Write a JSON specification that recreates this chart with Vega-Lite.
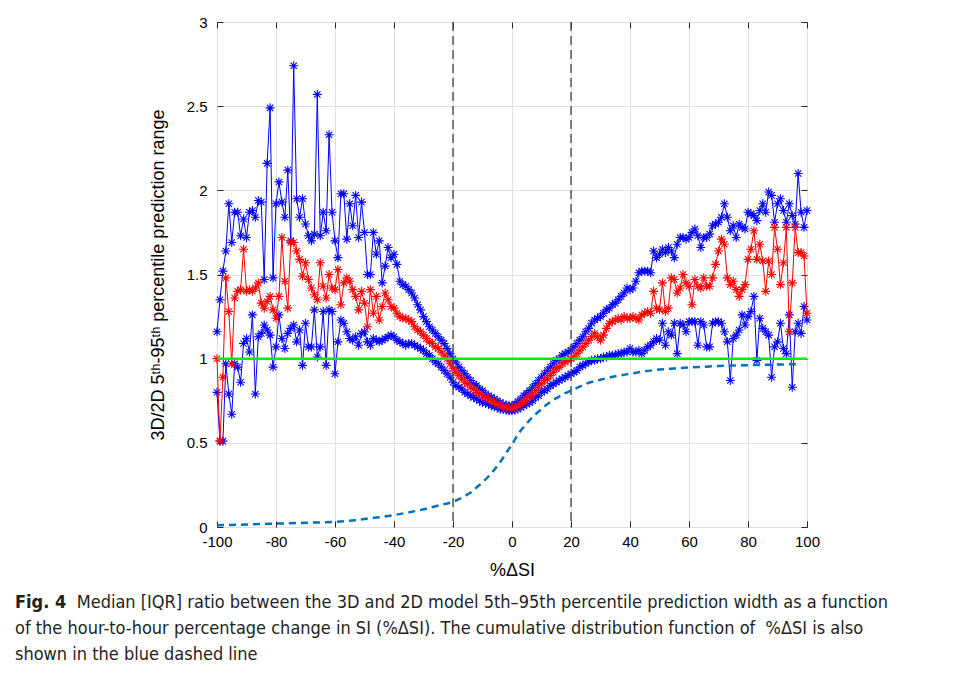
{
  "$schema": "https://vega.github.io/schema/vega-lite/v6.json",
  "autosize": {"type": "none"},
  "width": 590,
  "height": 505,
  "padding": {"left": 217, "top": 22, "right": 151, "bottom": 149},
  "background": "white",
  "config": {
    "view": {"stroke": "#262626", "strokeWidth": 1},
    "axis": {"labelFont": "Liberation Sans", "titleFont": "Liberation Sans", "labelColor": "#000", "titleColor": "#000", "labelFontSize": 15, "titleFontSize": 18, "titleFontWeight": "normal", "domain": false, "tickColor": "#262626", "tickSize": -6, "gridColor": "#e0e0e0", "gridWidth": 1, "labelFlush": false, "labelExpr": "datum.value + ''"}
  },
  "title": {
    "text": "Fig. 4",
    "subtitle": [
      "\u200b\u00a0\u00a0\u00a0\u00a0\u00a0\u00a0\u00a0\u00a0\u00a0\u00a0\u00a0\u00a0Median [IQR] ratio between the 3D and 2D model 5th\u201395th percentile prediction width as a function",
      "of the hour-to-hour percentage change in SI (%\u0394SI). The cumulative distribution function of \u00a0%\u0394SI is also",
      "shown in the blue dashed line"
    ],
    "orient": "bottom",
    "anchor": "start",
    "frame": "group",
    "dx": -202,
    "offset": 15,
    "font": "DejaVu Sans Condensed, sans-serif",
    "fontSize": 18,
    "fontWeight": "bold",
    "color": "#231f20",
    "subtitleFont": "DejaVu Sans Condensed, sans-serif",
    "subtitleFontSize": 18,
    "subtitleColor": "#231f20",
    "subtitleLineHeight": 26,
    "subtitlePadding": -18
  },
  "datasets": {
    "d": [
      {"x":-100,"u":1.16,"m":1.00,"l":0.80},{"x":-99,"u":1.35,"m":0.51,"l":0.51},{"x":-98,"u":1.52,"m":0.89,"l":0.51},{"x":-97,"u":1.64,"m":1.48,"l":0.97},{"x":-96,"u":1.92,"m":1.28,"l":0.79},
      {"x":-95,"u":1.69,"m":0.97,"l":0.67},{"x":-94,"u":1.87,"m":1.36,"l":0.97},{"x":-93,"u":1.87,"m":1.40,"l":0.95},{"x":-92,"u":1.73,"m":1.41,"l":0.86},{"x":-91,"u":1.83,"m":1.65,"l":1.09},
      {"x":-90,"u":1.72,"m":1.40,"l":1.12},{"x":-89,"u":1.87,"m":1.41,"l":1.04},{"x":-88,"u":1.88,"m":1.40,"l":1.26},{"x":-87,"u":1.84,"m":1.42,"l":0.79},{"x":-86,"u":1.94,"m":1.45,"l":1.13},
      {"x":-85,"u":1.93,"m":1.33,"l":1.15},{"x":-84,"u":1.47,"m":1.30,"l":1.20},{"x":-83,"u":2.16,"m":1.34,"l":1.17},{"x":-82,"u":2.49,"m":1.37,"l":1.14},{"x":-81,"u":1.48,"m":1.29,"l":0.95},
      {"x":-80,"u":1.92,"m":1.24,"l":1.07},{"x":-79,"u":2.05,"m":1.37,"l":1.26},{"x":-78,"u":1.93,"m":1.72,"l":1.12},{"x":-77,"u":1.84,"m":1.46,"l":1.06},{"x":-76,"u":2.12,"m":1.30,"l":1.15},
      {"x":-75,"u":1.70,"m":1.69,"l":1.18},{"x":-74,"u":2.74,"m":1.69,"l":1.20},{"x":-73,"u":1.95,"m":1.64,"l":1.10},{"x":-72,"u":1.84,"m":1.59,"l":1.17},{"x":-71,"u":1.95,"m":1.49,"l":0.96},
      {"x":-70,"u":1.80,"m":1.57,"l":1.21},{"x":-69,"u":1.73,"m":1.47,"l":1.07},{"x":-68,"u":1.70,"m":1.42,"l":1.07},{"x":-67,"u":1.74,"m":1.38,"l":1.29},{"x":-66,"u":2.57,"m":1.35,"l":1.01},
      {"x":-65,"u":1.73,"m":1.57,"l":1.07},{"x":-64,"u":1.87,"m":1.43,"l":1.28},{"x":-63,"u":1.76,"m":1.36,"l":0.96},{"x":-62,"u":2.33,"m":1.50,"l":1.29},{"x":-61,"u":1.87,"m":1.42,"l":1.28},
      {"x":-60,"u":1.70,"m":1.41,"l":0.91},{"x":-59,"u":1.60,"m":1.53,"l":1.10},{"x":-58,"u":1.98,"m":1.32,"l":1.23},{"x":-57,"u":1.98,"m":1.45,"l":1.21},{"x":-56,"u":1.71,"m":1.48,"l":1.16},
      {"x":-55,"u":1.92,"m":1.46,"l":1.12},{"x":-54,"u":1.79,"m":1.41,"l":1.11},{"x":-53,"u":1.97,"m":1.37,"l":1.13},{"x":-52,"u":1.72,"m":1.29,"l":1.08},{"x":-51,"u":1.93,"m":1.40,"l":1.15},
      {"x":-50,"u":1.75,"m":1.33,"l":1.16},{"x":-49,"u":1.50,"m":1.19,"l":1.10},{"x":-48,"u":1.50,"m":1.41,"l":1.08},{"x":-47,"u":1.75,"m":1.27,"l":1.12},{"x":-46,"u":1.62,"m":1.37,"l":1.11},
      {"x":-45,"u":1.70,"m":1.23,"l":1.10},{"x":-44,"u":1.45,"m":1.31,"l":1.11},{"x":-43,"u":1.55,"m":1.39,"l":1.12},{"x":-42,"u":1.66,"m":1.35,"l":1.13},{"x":-41,"u":1.60,"m":1.31,"l":1.14},
      {"x":-40,"u":1.62,"m":1.30,"l":1.13},{"x":-39,"u":1.56,"m":1.27,"l":1.11},{"x":-38,"u":1.46,"m":1.25,"l":1.10},{"x":-37,"u":1.44,"m":1.24,"l":1.09},{"x":-36,"u":1.43,"m":1.24,"l":1.08},
      {"x":-35,"u":1.41,"m":1.23,"l":1.09},{"x":-34,"u":1.39,"m":1.22,"l":1.09},{"x":-33,"u":1.36,"m":1.19,"l":1.08},{"x":-32,"u":1.32,"m":1.17,"l":1.07},{"x":-31,"u":1.29,"m":1.16,"l":1.06},
      {"x":-30,"u":1.25,"m":1.14,"l":1.05},{"x":-29,"u":1.22,"m":1.12,"l":1.03},{"x":-28,"u":1.19,"m":1.10,"l":1.02},{"x":-27,"u":1.17,"m":1.09,"l":1.00},{"x":-26,"u":1.15,"m":1.07,"l":0.98},
      {"x":-25,"u":1.13,"m":1.06,"l":0.97},{"x":-24,"u":1.11,"m":1.04,"l":0.95},{"x":-23,"u":1.09,"m":1.02,"l":0.93},{"x":-22,"u":1.06,"m":1.00,"l":0.91},{"x":-21,"u":1.03,"m":0.97,"l":0.89},
      {"x":-20,"u":1.00,"m":0.94,"l":0.86},{"x":-19,"u":0.98,"m":0.92,"l":0.84},{"x":-18,"u":0.95,"m":0.90,"l":0.83},{"x":-17,"u":0.93,"m":0.88,"l":0.82},{"x":-16,"u":0.91,"m":0.86,"l":0.80},
      {"x":-15,"u":0.89,"m":0.85,"l":0.79},{"x":-14,"u":0.87,"m":0.83,"l":0.78},{"x":-13,"u":0.85,"m":0.82,"l":0.77},{"x":-12,"u":0.84,"m":0.80,"l":0.76},{"x":-11,"u":0.82,"m":0.79,"l":0.75},
      {"x":-10,"u":0.81,"m":0.78,"l":0.74},{"x":-9,"u":0.79,"m":0.77,"l":0.735},{"x":-8,"u":0.78,"m":0.76,"l":0.73},{"x":-7,"u":0.77,"m":0.75,"l":0.72},{"x":-6,"u":0.76,"m":0.74,"l":0.715},
      {"x":-5,"u":0.75,"m":0.73,"l":0.71},{"x":-4,"u":0.74,"m":0.72,"l":0.70},{"x":-3,"u":0.73,"m":0.715,"l":0.70},{"x":-2,"u":0.725,"m":0.71,"l":0.695},{"x":-1,"u":0.72,"m":0.705,"l":0.69},
      {"x":0,"u":0.72,"m":0.705,"l":0.69},{"x":1,"u":0.73,"m":0.71,"l":0.695},{"x":2,"u":0.745,"m":0.72,"l":0.70},{"x":3,"u":0.76,"m":0.73,"l":0.71},{"x":4,"u":0.78,"m":0.745,"l":0.72},
      {"x":5,"u":0.795,"m":0.76,"l":0.73},{"x":6,"u":0.81,"m":0.775,"l":0.74},{"x":7,"u":0.83,"m":0.79,"l":0.75},{"x":8,"u":0.85,"m":0.81,"l":0.77},{"x":9,"u":0.87,"m":0.83,"l":0.78},
      {"x":10,"u":0.89,"m":0.85,"l":0.80},{"x":11,"u":0.91,"m":0.87,"l":0.81},{"x":12,"u":0.93,"m":0.88,"l":0.82},{"x":13,"u":0.95,"m":0.90,"l":0.84},{"x":14,"u":0.97,"m":0.92,"l":0.85},
      {"x":15,"u":0.99,"m":0.94,"l":0.86},{"x":16,"u":1.00,"m":0.95,"l":0.87},{"x":17,"u":1.02,"m":0.97,"l":0.88},{"x":18,"u":1.03,"m":0.98,"l":0.89},{"x":19,"u":1.04,"m":0.99,"l":0.90},
      {"x":20,"u":1.05,"m":1.00,"l":0.91},{"x":21,"u":1.07,"m":1.01,"l":0.92},{"x":22,"u":1.09,"m":1.03,"l":0.93},{"x":23,"u":1.11,"m":1.05,"l":0.95},{"x":24,"u":1.13,"m":1.07,"l":0.96},
      {"x":25,"u":1.16,"m":1.09,"l":0.97},{"x":26,"u":1.18,"m":1.11,"l":0.98},{"x":27,"u":1.21,"m":1.13,"l":0.99},{"x":28,"u":1.23,"m":1.15,"l":0.99},{"x":29,"u":1.24,"m":1.13,"l":1.00},
      {"x":30,"u":1.25,"m":1.11,"l":1.00},{"x":31,"u":1.27,"m":1.14,"l":1.01},{"x":32,"u":1.29,"m":1.18,"l":1.01},{"x":33,"u":1.30,"m":1.21,"l":1.02},{"x":34,"u":1.32,"m":1.22,"l":1.02},
      {"x":35,"u":1.33,"m":1.23,"l":1.02},{"x":36,"u":1.35,"m":1.24,"l":1.03},{"x":37,"u":1.37,"m":1.23,"l":1.03},{"x":38,"u":1.39,"m":1.25,"l":1.04},{"x":39,"u":1.42,"m":1.24,"l":1.04},
      {"x":40,"u":1.41,"m":1.24,"l":1.06},{"x":41,"u":1.42,"m":1.25,"l":1.04},{"x":42,"u":1.46,"m":1.24,"l":1.04},{"x":43,"u":1.51,"m":1.23,"l":1.05},{"x":44,"u":1.52,"m":1.26,"l":1.03},
      {"x":45,"u":1.52,"m":1.27,"l":1.05},{"x":46,"u":1.52,"m":1.28,"l":1.07},{"x":47,"u":1.51,"m":1.27,"l":1.08},{"x":48,"u":1.64,"m":1.40,"l":1.10},{"x":49,"u":1.60,"m":1.30,"l":1.12},
      {"x":50,"u":1.62,"m":1.29,"l":1.11},{"x":51,"u":1.65,"m":1.45,"l":1.21},{"x":52,"u":1.63,"m":1.28,"l":1.08},{"x":53,"u":1.66,"m":1.30,"l":1.16},{"x":54,"u":1.64,"m":1.48,"l":1.14},
      {"x":55,"u":1.60,"m":1.47,"l":1.21},{"x":56,"u":1.68,"m":1.39,"l":1.03},{"x":57,"u":1.72,"m":1.42,"l":1.21},{"x":58,"u":1.72,"m":1.50,"l":1.20},{"x":59,"u":1.71,"m":1.45,"l":1.16},
      {"x":60,"u":1.72,"m":1.43,"l":1.22},{"x":61,"u":1.75,"m":1.32,"l":1.22},{"x":62,"u":1.77,"m":1.47,"l":1.22},{"x":63,"u":1.73,"m":1.43,"l":1.08},{"x":64,"u":1.66,"m":1.42,"l":1.22},
      {"x":65,"u":1.72,"m":1.48,"l":1.20},{"x":66,"u":1.72,"m":1.43,"l":1.07},{"x":67,"u":1.74,"m":1.43,"l":1.07},{"x":68,"u":1.79,"m":1.48,"l":1.21},{"x":69,"u":1.80,"m":1.56,"l":1.22},
      {"x":70,"u":1.81,"m":1.64,"l":1.22},{"x":71,"u":1.84,"m":1.71,"l":1.21},{"x":72,"u":1.92,"m":1.68,"l":1.16},{"x":73,"u":1.84,"m":1.48,"l":1.10},{"x":74,"u":1.76,"m":1.44,"l":0.87},
      {"x":75,"u":1.79,"m":1.46,"l":1.12},{"x":76,"u":1.72,"m":1.41,"l":1.14},{"x":77,"u":1.80,"m":1.37,"l":1.17},{"x":78,"u":1.78,"m":1.41,"l":1.26},{"x":79,"u":1.77,"m":1.44,"l":1.20},
      {"x":80,"u":1.87,"m":1.59,"l":1.25},{"x":81,"u":1.86,"m":1.65,"l":1.28},{"x":82,"u":1.85,"m":1.76,"l":1.37},{"x":83,"u":1.82,"m":1.59,"l":0.99},{"x":84,"u":1.88,"m":1.68,"l":1.24},
      {"x":85,"u":1.92,"m":1.58,"l":1.18},{"x":86,"u":1.87,"m":1.40,"l":1.16},{"x":87,"u":1.99,"m":1.58,"l":1.14},{"x":88,"u":1.97,"m":1.50,"l":0.89},{"x":89,"u":1.81,"m":1.78,"l":1.07},
      {"x":90,"u":1.92,"m":1.65,"l":1.10},{"x":91,"u":1.95,"m":1.44,"l":1.21},{"x":92,"u":1.88,"m":1.57,"l":1.06},{"x":93,"u":1.81,"m":1.78,"l":1.03},{"x":94,"u":1.92,"m":1.16,"l":1.26},
      {"x":95,"u":1.85,"m":1.45,"l":0.83},{"x":96,"u":1.80,"m":1.78,"l":1.16},{"x":97,"u":2.10,"m":1.63,"l":1.21},{"x":98,"u":1.87,"m":1.63,"l":1.15},{"x":99,"u":1.78,"m":1.61,"l":1.31},
      {"x":100,"u":1.88,"m":1.27,"l":1.23}
    ],
    "cdf": [
      {"x":-100,"c":0.010},{"x":-90,"c":0.015},{"x":-80,"c":0.020},{"x":-70,"c":0.025},{"x":-60,"c":0.031},{"x":-55,"c":0.037},{"x":-50,"c":0.048},{"x":-45,"c":0.058},{"x":-40,"c":0.071},{"x":-35,"c":0.087},{"x":-30,"c":0.105},{"x":-25,"c":0.128},{"x":-20,"c":0.150},{"x":-18,"c":0.165},{"x":-16,"c":0.185},{"x":-14,"c":0.205},{"x":-12,"c":0.235},{"x":-10,"c":0.265},{"x":-8,"c":0.300},{"x":-6,"c":0.340},{"x":-4,"c":0.385},{"x":-2,"c":0.440},{"x":0,"c":0.490},{"x":2,"c":0.550},{"x":4,"c":0.595},{"x":6,"c":0.635},{"x":8,"c":0.670},{"x":10,"c":0.700},{"x":12,"c":0.730},{"x":14,"c":0.755},{"x":16,"c":0.775},{"x":18,"c":0.795},{"x":20,"c":0.810},{"x":25,"c":0.850},{"x":30,"c":0.875},{"x":35,"c":0.895},{"x":40,"c":0.910},{"x":45,"c":0.925},{"x":50,"c":0.935},{"x":55,"c":0.942},{"x":60,"c":0.948},{"x":65,"c":0.952},{"x":70,"c":0.956},{"x":75,"c":0.959},{"x":80,"c":0.961},{"x":85,"c":0.963},{"x":90,"c":0.965},{"x":98,"c":0.967}
    ],
    "one": [{"x":-100,"y":1},{"x":100,"y":1}],
    "vl": [{"x":-20},{"x":20}]
  },
  "resolve": {"axis": {"x": "independent", "y": "independent"}},
  "layer": [
    {
      "data": {"name": "d"},
      "mark": {"type": "line", "color": "#0000ff", "strokeWidth": 1},
      "encoding": {
        "x": {"field": "x", "type": "quantitative", "scale": {"domain": [-100, 100], "nice": false, "zero": false},
              "axis": {"orient": "bottom", "values": [-100,-80,-60,-40,-20,0,20,40,60,80,100], "title": "%\u0394SI", "grid": true, "labelPadding": 13, "titlePadding": 12}},
        "y": {"field": "u", "type": "quantitative", "scale": {"domain": [0, 3], "nice": false, "zero": false},
              "axis": {"orient": "left", "values": [0,0.5,1,1.5,2,2.5,3], "title": "3D/2D 5\u1d57\u02b0-95\u1d57\u02b0 percentile prediction range", "grid": true, "labelPadding": 16, "titlePadding": 19}}
      }
    },
    {
      "data": {"name": "d"},
      "mark": {"type": "point", "shape": "M0,-1L0,1M-1,0L1,0M-0.7,-0.7L0.7,0.7M-0.7,0.7L0.7,-0.7", "filled": false, "color": "#0000ff", "strokeWidth": 1.1, "size": 81, "opacity": 1},
      "encoding": {"x": {"field": "x", "type": "quantitative", "axis": null}, "y": {"field": "u", "type": "quantitative", "axis": null}}
    },
    {
      "data": {"name": "d"},
      "mark": {"type": "line", "color": "#0000ff", "strokeWidth": 1},
      "encoding": {"x": {"field": "x", "type": "quantitative", "axis": null}, "y": {"field": "l", "type": "quantitative", "axis": null}}
    },
    {
      "data": {"name": "d"},
      "mark": {"type": "point", "shape": "M0,-1L0,1M-1,0L1,0M-0.7,-0.7L0.7,0.7M-0.7,0.7L0.7,-0.7", "filled": false, "color": "#0000ff", "strokeWidth": 1.1, "size": 81, "opacity": 1},
      "encoding": {"x": {"field": "x", "type": "quantitative", "axis": null}, "y": {"field": "l", "type": "quantitative", "axis": null}}
    },
    {
      "data": {"name": "d"},
      "mark": {"type": "line", "color": "#ff0000", "strokeWidth": 1},
      "encoding": {"x": {"field": "x", "type": "quantitative", "axis": null}, "y": {"field": "m", "type": "quantitative", "axis": null}}
    },
    {
      "data": {"name": "d"},
      "mark": {"type": "point", "shape": "M0,-1L0,1M-1,0L1,0M-0.7,-0.7L0.7,0.7M-0.7,0.7L0.7,-0.7", "filled": false, "color": "#ff0000", "strokeWidth": 1.1, "size": 81, "opacity": 1},
      "encoding": {"x": {"field": "x", "type": "quantitative", "axis": null}, "y": {"field": "m", "type": "quantitative", "axis": null}}
    },
    {
      "data": {"name": "one"},
      "mark": {"type": "line", "color": "#00ee00", "strokeWidth": 2.5},
      "encoding": {
        "x": {"field": "x", "type": "quantitative", "axis": {"orient": "top", "values": [-100,-80,-60,-40,-20,0,20,40,60,80,100], "labels": false, "title": null, "grid": false}},
        "y": {"field": "y", "type": "quantitative", "axis": {"orient": "right", "values": [0,0.5,1,1.5,2,2.5,3], "labels": false, "title": null, "grid": false}}
      }
    },
    {
      "data": {"name": "vl"},
      "mark": {"type": "rule", "color": "#404040", "strokeWidth": 1.3, "strokeDash": [9, 5]},
      "encoding": {"x": {"field": "x", "type": "quantitative", "axis": null}}
    },
    {
      "data": {"name": "cdf"},
      "mark": {"type": "line", "color": "#0072bd", "strokeWidth": 2.5, "strokeDash": [7, 5], "interpolate": "monotone"},
      "encoding": {"x": {"field": "x", "type": "quantitative", "axis": null}, "y": {"field": "c", "type": "quantitative", "axis": null}}
    }
  ]
}
